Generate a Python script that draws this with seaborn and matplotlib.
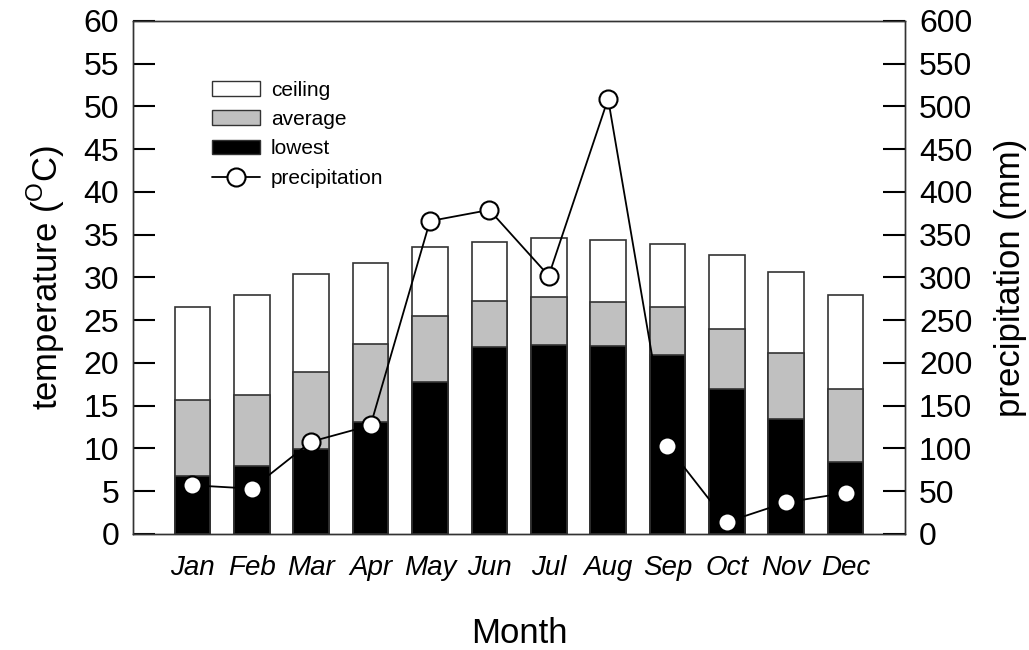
import numpy as np
import pandas as pd
import matplotlib
matplotlib.use("Agg")
import matplotlib.pyplot as plt
import seaborn as sns
from matplotlib.patches import Patch
from matplotlib.lines import Line2D

sns.set_style("ticks")
plt.rcParams['font.family'] = ['Liberation Sans', 'DejaVu Sans']
plt.rcParams['mathtext.fontset'] = 'custom'
plt.rcParams['mathtext.rm'] = 'Liberation Sans'
plt.rcParams['text.color'] = 'black'
plt.rcParams['axes.labelcolor'] = 'black'
plt.rcParams['xtick.color'] = 'black'
plt.rcParams['ytick.color'] = 'black'

# monthly climate values
months = ['Jan', 'Feb', 'Mar', 'Apr', 'May', 'Jun', 'Jul', 'Aug', 'Sep', 'Oct', 'Nov', 'Dec']
ceiling = [26.6, 28.0, 30.4, 31.7, 33.6, 34.1, 34.6, 34.4, 33.9, 32.6, 30.7, 28.0]
average = [15.7, 16.3, 18.9, 22.2, 25.5, 27.3, 27.7, 27.1, 26.6, 24.0, 21.2, 17.0]
lowest = [6.8, 7.9, 9.9, 13.1, 17.8, 21.9, 22.1, 22.0, 20.9, 16.9, 13.4, 8.4]
precip = [57, 53, 108, 127, 366, 379, 302, 509, 103, 14, 37, 48]

df = pd.DataFrame({'month': months, 'ceiling': ceiling, 'average': average,
                   'lowest': lowest, 'precip': precip, 'pos': np.arange(12)})

fig = plt.figure(figsize=(10.29, 6.5), dpi=100)
ax = fig.add_axes([0.1293, 0.1785, 0.7502, 0.7892])

edge = '#333333'
for col, fc in [('ceiling', 'white'), ('average', '#c0c0c0'), ('lowest', 'black')]:
    sns.barplot(data=df, x='month', y=col, color=fc, width=0.6, edgecolor=edge,
                linewidth=1.2, saturation=1, ax=ax, order=months)

ax.set_xlim(-1, 12)
ax.set_ylim(0, 60)
ax.set_yticks(np.arange(0, 61, 5))
ax.set_xlabel('Month', fontsize=25, labelpad=26)
ax.set_ylabel(r'temperature ($^{\mathrm{O}}$C)', fontsize=25, labelpad=12)
ax.tick_params(axis='y', direction='in', length=16, width=1.5, labelsize=23, pad=10)
ax.tick_params(axis='x', length=0, labelsize=20, pad=15)
for lab in ax.get_xticklabels():
    lab.set_fontstyle('italic')

ax2 = ax.twinx()
sns.lineplot(data=df, x='pos', y='precip', color='black', lw=1.3, marker='o',
             markersize=13, markerfacecolor='white', markeredgecolor='black',
             markeredgewidth=1.5, ax=ax2)
ax2.set_ylim(0, 600)
ax2.set_yticks(np.arange(0, 601, 50))
ax2.set_ylabel('precipitation (mm)', fontsize=25, labelpad=16)
ax2.tick_params(axis='y', direction='in', length=16, width=1.5, labelsize=23, pad=10)
ax2.set_xlim(-1, 12)

for a in (ax, ax2):
    for s in a.spines.values():
        s.set_linewidth(1.0)
        s.set_color(edge)

handles = [Patch(facecolor='white', edgecolor=edge, label='ceiling'),
           Patch(facecolor='#c0c0c0', edgecolor=edge, label='average'),
           Patch(facecolor='black', edgecolor=edge, label='lowest'),
           Line2D([], [], color='black', lw=1.3, marker='o', markersize=13,
                  markerfacecolor='white', markeredgewidth=1.5, label='precipitation')]
ax2.legend(handles=handles, loc='upper left', bbox_to_anchor=(0.092, 0.9),
           frameon=False, fontsize=15, handlelength=2.3, handletextpad=0.5,
           labelspacing=0.5, borderaxespad=0)

fig.savefig('out.png', dpi=100)
